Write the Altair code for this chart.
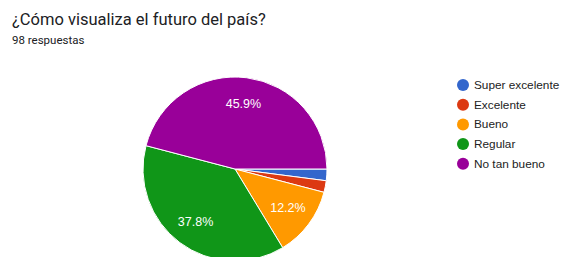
import math
import altair as alt
import pandas as pd

categories = ["Super excelente", "Excelente", "Bueno", "Regular", "No tan bueno"]
counts = [2, 2, 12, 37, 45]
colors = ["#3366cc", "#dc3912", "#ff9900", "#109618", "#990099"]
total = 98

df = pd.DataFrame({
    "categoria": categories,
    "valor": counts,
    "orden": list(range(1, len(categories) + 1)),
})

FONT = "Roboto"
AFONT = "Liberation Sans"
cx, cy, R = 227, 161, 92

theta = alt.Theta("valor:Q", stack=True,
                  scale=alt.Scale(range=[math.pi / 2, math.pi / 2 + 2 * math.pi]))
order = alt.Order("orden:Q", sort="ascending")

base = alt.Chart(df).encode(theta=theta, order=order)

pie = base.mark_arc(outerRadius=R, stroke="white", strokeWidth=1).encode(
    x=alt.value(cx), y=alt.value(cy),
    color=alt.Color("categoria:N",
                    scale=alt.Scale(domain=categories, range=colors),
                    sort=categories,
                    legend=alt.Legend(title=None, orient="none", legendX=449, legendY=71,
                                      symbolType="circle", symbolSize=144,
                                      labelFont=AFONT, labelFontSize=11.8, labelColor="#222222",
                                      labelOffset=5, rowPadding=6.7, symbolStrokeWidth=0,
                                      labelLimit=200)),
)

labels = base.transform_calculate(
    etiqueta=f"datum.valor/{total} >= 0.05 ? format(datum.valor/{total}*100, '.1f') + '%' : ''"
).mark_text(radius=66, font=AFONT, fontSize=12.5, color="white", baseline="middle", align="center").encode(
    x=alt.value(cx), y=alt.value(cy), text="etiqueta:N"
)

title = alt.Chart(pd.DataFrame({"t": ["¿Cómo visualiza el futuro del país?"]})).mark_text(
    font=FONT, fontSize=16.5, color="#202124", align="left", baseline="alphabetic"
).encode(x=alt.value(4), y=alt.value(17), text="t:N")

subtitle = alt.Chart(pd.DataFrame({"t": ["98 respuestas"]})).mark_text(
    font=FONT, fontSize=11.5, color="#202124", align="left", baseline="alphabetic"
).encode(x=alt.value(4), y=alt.value(36), text="t:N")

chart = alt.layer(pie, labels, title, subtitle).properties(
    width=555, height=249, autosize=alt.AutoSizeParams(type="none"), padding=0
).configure_view(stroke=None)

chart.save("out.html", embed_options={"renderer": "svg", "actions": False})
